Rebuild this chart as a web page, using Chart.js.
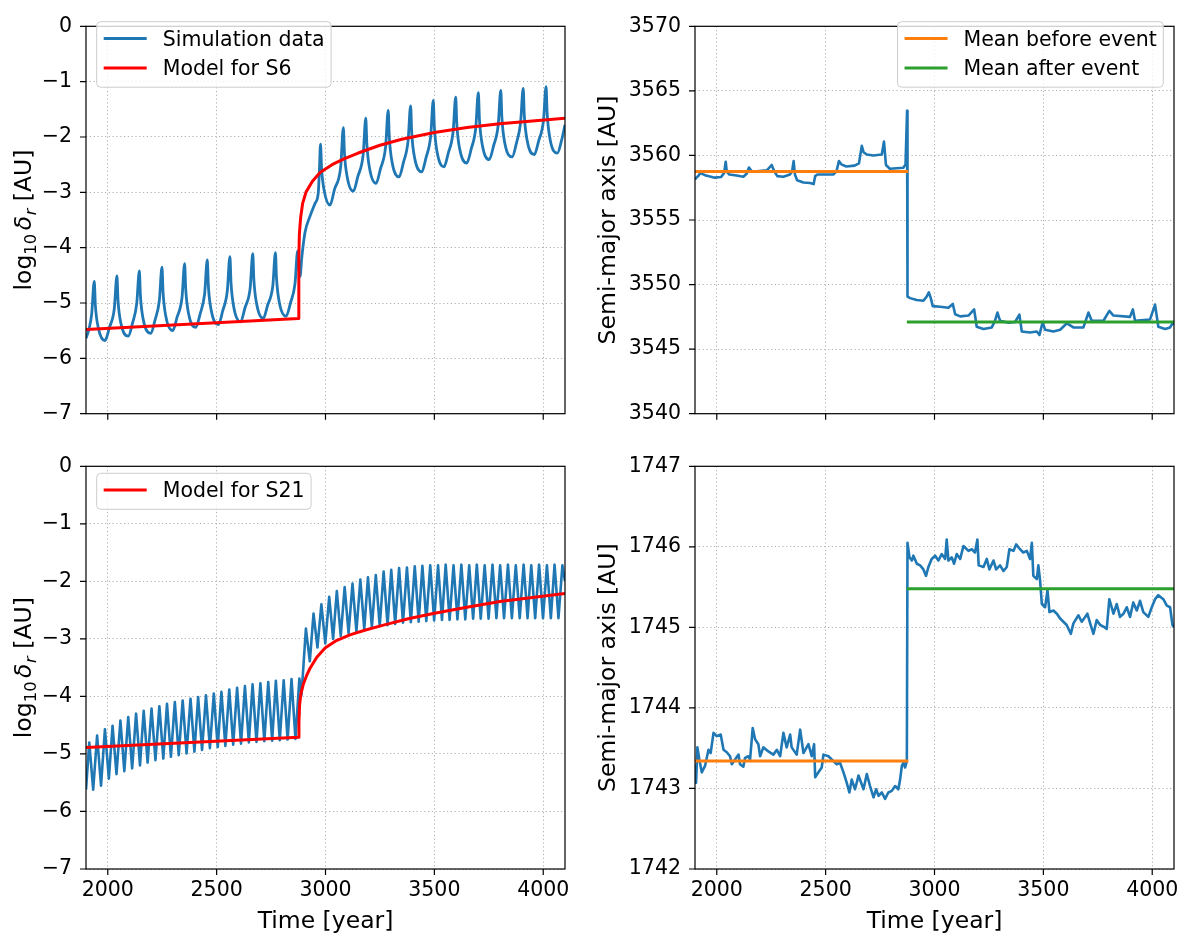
<!DOCTYPE html>
<html><head><meta charset="utf-8">
<script src="https://cdn.jsdelivr.net/npm/chart.js@4.4.0/dist/chart.umd.min.js"></script>
<style>
html,body{margin:0;padding:0;background:#fff;}
#wrap{position:relative;width:1190px;height:937px;overflow:hidden;background:#fff;}
canvas{position:absolute;}
</style></head>
<body><div id="wrap">
<canvas id="c1" width="595" height="440" style="left:0px;top:0px"></canvas>
<canvas id="c2" width="595" height="440" style="left:595px;top:0px"></canvas>
<canvas id="c3" width="595" height="497" style="left:0px;top:440px"></canvas>
<canvas id="c4" width="595" height="497" style="left:595px;top:440px"></canvas>
</div>
<script>
// ---------- tick values ----------
const xTickValues = [2000, 2500, 3000, 3500, 4000];
const logTickValues = [0, -1, -2, -3, -4, -5, -6, -7];
const smaTopTickValues = [3540, 3545, 3550, 3555, 3560, 3565, 3570];
const smaBottomTickValues = [1742, 1743, 1744, 1745, 1746, 1747];

// ---------- S6: log10 delta_r simulation ----------
const s6SimYears = [1900,1915,1926,1938,1943,1956,1987,2007,2030,2042,2047,2060,2094,2114,2133,2145,2150,2163,2197,2217,2237,2249,2254,2267,2298,2318,2341,2353,2358,2371,2404,2424,2445,2457,2462,2475,2508,2528,2549,2561,2566,2579,2610,2630,2654,2666,2671,2684,2714,2734,2758,2770,2775,2788,2819,2839,2860,2872,2878,2883,2891,2906,2929,2952,2967,2972,2977,2982,2995,3021,3041,3070,3082,3087,3100,3128,3148,3173,3185,3190,3203,3232,3252,3276,3288,3293,3306,3338,3358,3379,3391,3396,3409,3442,3462,3483,3495,3500,3513,3544,3564,3586,3598,3603,3616,3649,3669,3690,3702,3707,3720,3752,3772,3793,3805,3810,3823,3857,3877,3896,3908,3913,3926,3959,3979,4001,4013,4018,4031,4065,4085,4100];
const s6SimLog = [-5.64,-5.45,-5.20,-4.61,-5.04,-5.44,-5.68,-5.45,-5.10,-4.51,-4.95,-5.36,-5.60,-5.36,-5.01,-4.42,-4.87,-5.30,-5.55,-5.31,-4.95,-4.35,-4.81,-5.25,-5.50,-5.26,-4.90,-4.29,-4.75,-5.19,-5.44,-5.20,-4.83,-4.22,-4.69,-5.13,-5.39,-5.14,-4.78,-4.16,-4.63,-5.08,-5.34,-5.09,-4.73,-4.11,-4.58,-5.02,-5.28,-5.04,-4.69,-4.09,-4.55,-4.99,-5.24,-5.00,-4.65,-4.06,-4.35,-4.52,-4.18,-3.72,-3.43,-3.20,-3.00,-2.60,-2.13,-2.57,-2.99,-3.23,-2.95,-2.53,-1.83,-2.29,-2.73,-2.98,-2.72,-2.32,-1.66,-2.13,-2.58,-2.84,-2.58,-2.18,-1.52,-2.00,-2.46,-2.72,-2.46,-2.08,-1.44,-1.92,-2.37,-2.63,-2.37,-1.99,-1.34,-1.82,-2.28,-2.54,-2.29,-1.91,-1.28,-1.76,-2.21,-2.47,-2.22,-1.84,-1.20,-1.68,-2.14,-2.41,-2.16,-1.79,-1.16,-1.64,-2.10,-2.36,-2.11,-1.74,-1.12,-1.60,-2.06,-2.32,-2.07,-1.71,-1.09,-1.57,-2.03,-2.29,-2.05,-1.78];

// ---------- S6: model ----------
const s6ModelYears = [1900,2876,2877,2878,2880,2886,2895,2910,2940,2975,3030,3082,3150,3250,3350,3500,3650,3800,3950,4100];
const s6ModelLog = [-5.48,-5.28,-4.80,-4.20,-3.75,-3.45,-3.20,-3.00,-2.80,-2.64,-2.50,-2.40,-2.29,-2.15,-2.04,-1.92,-1.83,-1.76,-1.71,-1.66];

// ---------- S21: log10 delta_r simulation ----------
const s21SimYears = [1900,1915,1933,1951,1969,1987,2005,2022,2040,2058,2076,2094,2112,2130,2148,2165,2183,2201,2219,2237,2255,2272,2290,2308,2326,2344,2362,2380,2398,2415,2433,2451,2469,2487,2505,2522,2540,2558,2576,2594,2612,2630,2648,2665,2683,2701,2719,2737,2755,2772,2790,2808,2826,2844,2862,2880,2890,2910,2928,2945,2963,2981,2999,3017,3035,3052,3070,3088,3106,3124,3142,3160,3178,3195,3213,3231,3249,3267,3285,3302,3320,3338,3356,3374,3392,3410,3428,3445,3463,3481,3499,3517,3535,3552,3570,3588,3606,3624,3642,3660,3678,3695,3713,3731,3749,3767,3785,3802,3820,3838,3856,3874,3892,3910,3928,3945,3963,3981,3999,4017,4035,4052,4070,4088,4100];
const s21SimLog = [-5.62,-4.80,-5.62,-4.68,-5.55,-4.57,-5.43,-4.51,-5.35,-4.42,-5.30,-4.36,-5.25,-4.30,-5.20,-4.25,-5.15,-4.21,-5.11,-4.17,-5.08,-4.13,-5.05,-4.10,-5.02,-4.07,-4.99,-4.04,-4.96,-4.01,-4.93,-3.98,-4.90,-3.95,-4.88,-3.92,-4.86,-3.88,-4.84,-3.85,-4.82,-3.82,-4.80,-3.79,-4.79,-3.77,-4.78,-3.75,-4.77,-3.73,-4.76,-3.72,-4.75,-3.70,-4.74,-3.69,-3.97,-2.82,-3.39,-2.56,-3.15,-2.40,-3.08,-2.27,-3.00,-2.17,-2.95,-2.10,-2.90,-2.04,-2.87,-1.97,-2.83,-1.93,-2.80,-1.89,-2.78,-1.83,-2.76,-1.80,-2.74,-1.77,-2.72,-1.76,-2.71,-1.74,-2.70,-1.73,-2.69,-1.72,-2.68,-1.72,-2.67,-1.71,-2.67,-1.72,-2.66,-1.71,-2.66,-1.72,-2.65,-1.71,-2.65,-1.72,-2.65,-1.71,-2.64,-1.72,-2.64,-1.71,-2.64,-1.72,-2.64,-1.71,-2.64,-1.72,-2.64,-1.71,-2.64,-1.72,-2.64,-1.71,-2.64,-1.72,-2.00];

// ---------- S21: model ----------
const s21ModelYears = [1900,2876,2878,2881,2887,2898,2915,2929,2960,2998,3050,3112,3180,3266,3380,3495,3649,3801,3950,4100];
const s21ModelLog = [-4.89,-4.71,-4.45,-4.15,-3.95,-3.79,-3.62,-3.51,-3.32,-3.16,-3.03,-2.93,-2.85,-2.76,-2.65,-2.56,-2.45,-2.35,-2.28,-2.21];

// ---------- S6: semi-major axis ----------
const smaTopYears = [1900,1903,1915,1925,1935,1950,1965,1990,2020,2034,2041,2046,2058,2091,2122,2138,2148,2160,2185,2230,2252,2264,2278,2306,2336,2346,2353,2359,2369,2398,2428,2445,2452,2462,2490,2535,2550,2561,2572,2595,2633,2653,2666,2674,2689,2719,2758,2768,2777,2795,2826,2857,2867,2874,2876,2888,2918,2949,2964,2974,2983,2992,3026,3064,3084,3095,3118,3156,3182,3194,3225,3263,3278,3289,3301,3340,3370,3390,3401,3439,3470,3482,3497,3508,3546,3577,3608,3638,3684,3707,3722,3776,3803,3822,3898,3911,3921,3990,4013,4028,4059,4082,4093,4100];
const smaTopValues = [3558.20,3558.23,3558.40,3558.65,3558.55,3558.45,3558.38,3558.28,3558.33,3558.65,3559.51,3558.75,3558.52,3558.45,3558.35,3558.60,3559.06,3558.77,3558.77,3558.84,3559.26,3558.77,3558.40,3558.35,3558.52,3558.77,3559.56,3558.52,3558.08,3557.91,3557.86,3557.78,3558.40,3558.52,3558.52,3558.52,3558.77,3559.56,3559.31,3559.14,3559.21,3559.38,3560.74,3560.25,3560.07,3560.00,3560.07,3561.08,3559.26,3558.97,3559.01,3559.05,3559.31,3563.45,3549.07,3548.95,3548.80,3548.75,3549.07,3549.40,3548.95,3548.33,3548.28,3548.20,3548.50,3547.70,3547.54,3547.60,3548.08,3546.73,3546.56,3546.68,3547.20,3547.83,3547.20,3547.05,3547.10,3547.67,3546.36,3546.29,3546.36,3546.10,3547.10,3546.50,3546.36,3546.50,3547.00,3546.68,3546.68,3547.83,3547.20,3547.20,3547.96,3547.60,3547.50,3548.08,3547.20,3547.30,3548.45,3546.73,3546.56,3546.68,3547.00,3546.90];
const meanBeforeYears = [1900, 2880];
const meanAfterYears = [2873, 4100];
const meanBeforeTop = [3558.75, 3558.75];
const meanAfterTop = [3547.1, 3547.1];

// ---------- S21: semi-major axis ----------
const smaBottomYears = [1900,1905,1911,1920,1931,1946,1962,1972,1985,2000,2018,2031,2046,2061,2069,2084,2100,2107,2122,2130,2145,2153,2165,2176,2191,2199,2214,2237,2260,2276,2291,2306,2321,2337,2344,2367,2383,2398,2421,2436,2447,2452,2467,2482,2490,2513,2536,2551,2566,2582,2597,2609,2620,2635,2651,2666,2674,2689,2704,2720,2732,2743,2758,2773,2788,2804,2819,2834,2842,2850,2857,2865,2873,2876,2885,2896,2903,2919,2934,2949,2961,2972,2987,3003,3018,3033,3049,3056,3064,3079,3090,3102,3118,3133,3156,3171,3186,3197,3203,3225,3240,3252,3271,3283,3301,3317,3332,3344,3363,3375,3393,3408,3424,3439,3447,3454,3470,3477,3485,3493,3508,3519,3528,3546,3562,3577,3592,3607,3626,3638,3661,3676,3692,3702,3715,3730,3745,3761,3776,3791,3803,3822,3837,3852,3868,3883,3898,3913,3929,3944,3959,3982,3998,4013,4028,4051,4067,4082,4093,4100];
const smaBottomValues = [1743.30,1743.07,1743.51,1743.36,1743.20,1743.28,1743.48,1743.44,1743.69,1743.65,1743.67,1743.48,1743.45,1743.40,1743.30,1743.36,1743.42,1743.30,1743.27,1743.38,1743.40,1743.36,1743.75,1743.61,1743.55,1743.40,1743.51,1743.46,1743.42,1743.48,1743.40,1743.69,1743.51,1743.67,1743.51,1743.42,1743.73,1743.44,1743.55,1743.40,1743.55,1743.14,1743.20,1743.26,1743.42,1743.40,1743.34,1743.30,1743.32,1743.20,1743.07,1742.95,1743.11,1742.99,1743.16,1743.05,1742.99,1743.18,1743.03,1742.89,1742.99,1742.91,1742.95,1742.87,1742.95,1742.97,1743.03,1742.99,1743.11,1743.28,1743.32,1743.26,1743.34,1746.05,1745.87,1745.83,1745.89,1745.79,1745.77,1745.72,1745.64,1745.75,1745.85,1745.89,1745.83,1745.91,1745.85,1746.09,1745.83,1745.87,1745.79,1745.91,1745.85,1746.01,1745.95,1745.97,1745.93,1746.09,1745.77,1745.75,1745.85,1745.72,1745.83,1745.72,1745.77,1745.70,1745.75,1745.97,1745.95,1746.03,1745.97,1745.93,1745.95,1745.85,1746.05,1745.64,1745.60,1745.77,1745.58,1745.29,1745.25,1745.46,1745.19,1745.21,1745.17,1745.11,1745.07,1745.03,1744.92,1745.05,1745.15,1745.07,1745.13,1745.17,1745.05,1744.92,1745.09,1745.03,1745.01,1744.98,1745.35,1745.17,1745.29,1745.13,1745.17,1745.25,1745.13,1745.31,1745.21,1745.33,1745.19,1745.13,1745.25,1745.35,1745.40,1745.35,1745.27,1745.25,1745.03,1745.00];
const meanBeforeBottom = [1743.34, 1743.34];
const meanAfterBottom = [1745.48, 1745.48];

// ---------- styling ----------
const FAMILY = '"DejaVu Sans", sans-serif';
const TICK_SIZE = 20.5, LABEL_SIZE = 23.5, LEGEND_SIZE = 20.5;
const C_BLUE = '#1f77b4', C_RED = '#ff0000', C_ORANGE = '#ff7f0e', C_GREEN = '#2ca02c';
const GRID_DASH = [1.2, 2.6];
Chart.defaults.font.family = FAMILY;
Chart.defaults.color = '#000';
Chart.defaults.animation = false;

function lineDs(label, xs, ys, color, width, smooth) {
  const ds = {
    label, data: xs.map((x, i) => ({x: x, y: ys[i]})),
    borderColor: color, backgroundColor: color, borderWidth: width,
    pointRadius: 0, pointHoverRadius: 0, tension: 0, fill: false,
    borderJoinStyle: 'round', borderCapStyle: 'butt'
  };
  if (smooth) { ds.cubicInterpolationMode = 'monotone'; ds.tension = 0.4; }
  return ds;
}
function fmtMinus(v) { return v < 0 ? '\u2212' + Math.abs(v) : String(v); }

function drawRotTitle(ctx, text, bx, cy) {
  ctx.save();
  ctx.translate(bx, cy); ctx.rotate(-Math.PI / 2);
  ctx.font = LABEL_SIZE + 'px ' + FAMILY; ctx.fillStyle = '#000';
  ctx.textAlign = 'center'; ctx.textBaseline = 'alphabetic';
  ctx.fillText(text, 0, 0);
  ctx.restore();
}
function drawLogTitle(ctx, bx, cy) {
  const small = LABEL_SIZE * 0.7;
  const pieces = [
    {t: 'log', f: LABEL_SIZE + 'px ' + FAMILY, dy: 0, gap: 0},
    {t: '10', f: small + 'px ' + FAMILY, dy: 5.5, gap: 0},
    {t: '\u03b4', f: 'italic ' + LABEL_SIZE + 'px ' + FAMILY, dy: 0, gap: 3.5},
    {t: 'r', f: 'italic ' + small + 'px ' + FAMILY, dy: 5.5, gap: 0.5},
    {t: ' [AU]', f: LABEL_SIZE + 'px ' + FAMILY, dy: 0, gap: 0}
  ];
  ctx.save();
  let W = 0;
  pieces.forEach(p => { ctx.font = p.f; p.w = ctx.measureText(p.t).width; W += p.w + p.gap; });
  ctx.translate(bx, cy); ctx.rotate(-Math.PI / 2);
  ctx.fillStyle = '#000'; ctx.textAlign = 'left'; ctx.textBaseline = 'alphabetic';
  let x = -W / 2;
  pieces.forEach(p => { x += p.gap; ctx.font = p.f; ctx.fillText(p.t, x, p.dy); x += p.w; });
  ctx.restore();
}
function drawLegend(ctx, lg) {
  ctx.save();
  ctx.font = LEGEND_SIZE + 'px ' + FAMILY;
  let tw = 0;
  lg.entries.forEach(e => { tw = Math.max(tw, ctx.measureText(e.label).width); });
  const w = 66 + tw + 6.5;
  const h = 36 + (lg.entries.length - 1) * 29.5;
  const x = lg.right !== undefined ? lg.right - w : lg.x;
  const y = lg.y, r = 4;
  ctx.beginPath();
  ctx.moveTo(x + r, y); ctx.lineTo(x + w - r, y); ctx.arcTo(x + w, y, x + w, y + r, r);
  ctx.lineTo(x + w, y + h - r); ctx.arcTo(x + w, y + h, x + w - r, y + h, r);
  ctx.lineTo(x + r, y + h); ctx.arcTo(x, y + h, x, y + h - r, r);
  ctx.lineTo(x, y + r); ctx.arcTo(x, y, x + r, y, r); ctx.closePath();
  ctx.fillStyle = 'rgba(255,255,255,0.8)'; ctx.fill();
  ctx.strokeStyle = '#cccccc'; ctx.lineWidth = 1; ctx.stroke();
  lg.entries.forEach((e, i) => {
    const ly = y + 16.8 + i * 29.5;
    ctx.beginPath(); ctx.moveTo(x + 7, ly); ctx.lineTo(x + 50, ly);
    ctx.strokeStyle = e.color; ctx.lineWidth = e.width; ctx.stroke();
    ctx.fillStyle = '#000'; ctx.textAlign = 'left'; ctx.textBaseline = 'alphabetic';
    ctx.fillText(e.label, x + 66, ly + 7);
  });
  ctx.restore();
}

function makeChart(id, c) {
  const decor = {
    id: 'mplDecor',
    afterDraw(chart) {
      const ctx = chart.ctx, a = chart.chartArea, sx = chart.scales.x, sy = chart.scales.y;
      ctx.save();
      ctx.setLineDash([]); ctx.strokeStyle = '#000'; ctx.lineWidth = 1.2;
      ctx.beginPath();
      xTickValues.forEach(v => { const p = sx.getPixelForValue(v); ctx.moveTo(p, a.bottom); ctx.lineTo(p, a.bottom + 6); });
      c.yTicks.forEach(v => { const p = sy.getPixelForValue(v); ctx.moveTo(a.left - 6, p); ctx.lineTo(a.left, p); });
      ctx.stroke();
      ctx.strokeRect(a.left, a.top, a.right - a.left, a.bottom - a.top);
      const cy = (a.top + a.bottom) / 2;
      if (c.yTitle === 'log') drawLogTitle(ctx, c.yTitleX, cy); else drawRotTitle(ctx, c.yTitle, c.yTitleX, cy);
      if (c.xTitle) {
        ctx.font = LABEL_SIZE + 'px ' + FAMILY; ctx.fillStyle = '#000';
        ctx.textAlign = 'center'; ctx.textBaseline = 'alphabetic';
        ctx.fillText(c.xTitle, (a.left + a.right) / 2, c.xTitleY);
      }
      if (c.legend) drawLegend(ctx, c.legend);
      ctx.restore();
    }
  };
  const gridOpts = {color: '#b0b0b0', lineWidth: 1, drawTicks: false, borderDash: GRID_DASH};
  return new Chart(document.getElementById(id), {
    type: 'line',
    data: {datasets: c.datasets},
    options: {
      responsive: false, animation: false, events: [],
      layout: {autoPadding: false, padding: {left: 0, right: c.padRight, top: c.padTop, bottom: 0}},
      plugins: {legend: {display: false}, tooltip: {enabled: false}, title: {display: false}},
      scales: {
        x: {
          type: 'linear', min: 1900, max: 4100,
          afterBuildTicks: s => { s.ticks = xTickValues.map(v => ({value: v})); },
          afterFit: s => { s.height = c.xHeight; },
          grid: gridOpts, border: {display: false, dash: GRID_DASH},
          ticks: {display: c.showX, padding: 9, autoSkip: false, maxRotation: 0, color: '#000',
                  font: {size: TICK_SIZE, family: FAMILY}, callback: v => String(v)}
        },
        y: {
          type: 'linear', min: c.yMin, max: c.yMax,
          afterBuildTicks: s => { s.ticks = c.yTicks.map(v => ({value: v})); },
          afterFit: s => { s.width = c.yWidth; },
          grid: gridOpts, border: {display: false, dash: GRID_DASH},
          ticks: {padding: 14, autoSkip: false, color: '#000',
                  font: {size: TICK_SIZE, family: FAMILY}, callback: v => fmtMinus(v)}
        }
      }
    },
    plugins: [decor]
  });
}

const W_BLUE = 2.8, W_RED = 3.0, W_MEAN = 3.0, W_SMA = 2.6;

// Top-left: S6 delta_r
makeChart('c1', {
  datasets: [
    lineDs('Model for S6', s6ModelYears, s6ModelLog, C_RED, W_RED),
    lineDs('Simulation data', s6SimYears, s6SimLog, C_BLUE, W_BLUE, true)
  ],
  yMin: -7, yMax: 0, yTicks: logTickValues,
  padTop: 11, padRight: 30, yWidth: 86, xHeight: 23, showX: false,
  yTitle: 'log', yTitleX: 30.5,
  legend: {x: 96.7, y: 21.7, entries: [
    {label: 'Simulation data', color: C_BLUE, width: W_BLUE},
    {label: 'Model for S6', color: C_RED, width: W_RED}
  ]}
});

// Top-right: S6 semi-major axis
makeChart('c2', {
  datasets: [
    lineDs('Mean before event', meanBeforeYears, meanBeforeTop, C_ORANGE, W_MEAN),
    lineDs('Mean after event', meanAfterYears, meanAfterTop, C_GREEN, W_MEAN),
    lineDs('Simulation', smaTopYears, smaTopValues, C_BLUE, W_SMA)
  ],
  yMin: 3540, yMax: 3570, yTicks: smaTopTickValues,
  padTop: 11, padRight: 16, yWidth: 100, xHeight: 23, showX: false,
  yTitle: 'Semi-major axis [AU]', yTitleX: 20.3,
  legend: {right: 568.3, y: 21.7, entries: [
    {label: 'Mean before event', color: C_ORANGE, width: W_MEAN},
    {label: 'Mean after event', color: C_GREEN, width: W_MEAN}
  ]}
});

// Bottom-left: S21 delta_r
makeChart('c3', {
  datasets: [
    lineDs('Model for S21', s21ModelYears, s21ModelLog, C_RED, W_RED),
    lineDs('Simulation data', s21SimYears, s21SimLog, C_BLUE, 2.6)
  ],
  yMin: -7, yMax: 0, yTicks: logTickValues,
  padTop: 23, padRight: 30, yWidth: 86, xHeight: 68, showX: true,
  yTitle: 'log', yTitleX: 30.5, xTitle: 'Time [year]', xTitleY: 488.3,
  legend: {x: 96.7, y: 33.3, entries: [
    {label: 'Model for S21', color: C_RED, width: W_RED}
  ]}
});

// Bottom-right: S21 semi-major axis
makeChart('c4', {
  datasets: [
    lineDs('Mean before event', meanBeforeYears, meanBeforeBottom, C_ORANGE, W_MEAN),
    lineDs('Mean after event', meanAfterYears, meanAfterBottom, C_GREEN, W_MEAN),
    lineDs('Simulation', smaBottomYears, smaBottomValues, C_BLUE, W_SMA)
  ],
  yMin: 1742, yMax: 1747, yTicks: smaBottomTickValues,
  padTop: 23, padRight: 16, yWidth: 100, xHeight: 68, showX: true,
  yTitle: 'Semi-major axis [AU]', yTitleX: 20.3, xTitle: 'Time [year]', xTitleY: 488.3
});
</script>
</body></html>
